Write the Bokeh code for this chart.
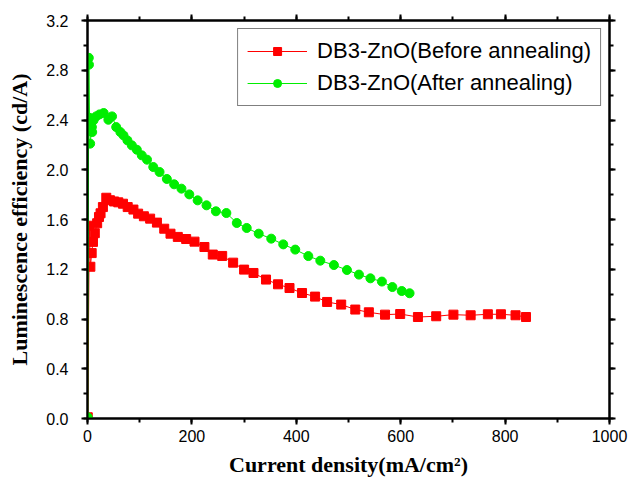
from bokeh.plotting import figure
from bokeh.models import (Range1d, LinearAxis, SingleIntervalTicker, NumeralTickFormatter,
                          Legend, LegendItem, CustomJSTickFormatter)
from bokeh.embed import file_html
from bokeh.resources import INLINE

# Data
red_x = [0.5, 3.5, 5.5, 8, 10.5, 14, 18.5, 22, 25, 29.5,
         36, 43, 51, 59, 68, 77, 88, 97, 108, 120,
         133, 147, 159, 173, 189, 205, 224, 240, 258, 279,
         300, 318, 342, 365, 387, 411, 436, 459, 486, 513,
         539, 570, 599, 633, 668, 701, 734, 767, 792, 820, 840]
red_y = [0.01, 1.55, 1.22, 1.33, 1.42, 1.49, 1.57, 1.62, 1.65, 1.70,
         1.775, 1.755, 1.745, 1.738, 1.727, 1.70, 1.68, 1.647, 1.626, 1.607,
         1.575, 1.526, 1.486, 1.46, 1.443, 1.422, 1.379, 1.318, 1.307, 1.253,
         1.197, 1.17, 1.117, 1.079, 1.049, 1.009, 0.98, 0.937, 0.916, 0.876,
         0.854, 0.835, 0.84, 0.816, 0.822, 0.835, 0.83, 0.838, 0.838, 0.83, 0.816]

green_x = [0.5, 2.5, 2.8, 3.9, 5.1, 8.4, 9, 11.5, 16.6, 23,
           31, 40, 47, 55, 63, 69, 76.5, 85, 94.5, 104,
           114, 126, 138, 152, 166, 180, 195, 211, 228, 246,
           266, 286, 305, 328, 352, 375, 398, 423, 446, 472,
           497, 520, 542, 564, 584, 602, 617]
green_y = [0.01, 2.90, 2.845, 2.418, 2.21, 2.343, 2.303, 2.397, 2.429, 2.445,
           2.456, 2.402, 2.429, 2.343, 2.303, 2.276, 2.236, 2.196, 2.161, 2.116,
           2.081, 2.022, 1.982, 1.926, 1.883, 1.848, 1.802, 1.754, 1.714, 1.666,
           1.652, 1.572, 1.532, 1.486, 1.446, 1.40, 1.358, 1.306, 1.269, 1.234,
           1.194, 1.157, 1.127, 1.101, 1.057, 1.025, 1.007]

labels = ["DB3-ZnO(Before annealing)", "DB3-ZnO(After annealing)"]
RED = "#ff0000"
GREEN = "#00ee00"

p = figure(width=632, height=484, output_backend="svg", toolbar_location=None,
           x_range=Range1d(0, 1000), y_range=Range1d(0, 3.2),
           min_border_left=87, min_border_right=23, min_border_top=20, min_border_bottom=66)
p.xgrid.visible = False
p.ygrid.visible = False
p.outline_line_color = "black"
p.outline_line_width = 2
p.background_fill_color = "white"
p.border_fill_color = "white"

rl = p.line(red_x, red_y, line_color=RED, line_width=1)
rs = p.scatter(red_x, red_y, marker="square", size=9, fill_color=RED, line_color=RED)
gl = p.line(green_x, green_y, line_color=GREEN, line_width=1)
gs = p.scatter(green_x, green_y, marker="circle", size=9, fill_color=GREEN, line_color=GREEN)

def style(ax):
    ax.axis_line_width = 2
    ax.axis_line_color = "black"
    ax.major_tick_line_width = 2
    ax.minor_tick_line_width = 2
    ax.major_tick_out = 6
    ax.major_tick_in = 0
    ax.minor_tick_out = 4
    ax.minor_tick_in = 0
    ax.major_label_text_font = "Liberation Sans"
    ax.major_label_text_color = "black"
    ax.major_label_text_font_size = "16px"
    ax.axis_label_text_color = "black"
    ax.axis_label_text_font = "Liberation Serif"
    ax.axis_label_text_font_style = "bold"
    ax.axis_label_text_font_size = "22px"

xa = p.xaxis[0]
xa.ticker = SingleIntervalTicker(interval=200, num_minor_ticks=2)
style(xa)
xa.major_label_standoff = 5
xa.axis_label = "Current density(mA/cm\u00b2)"
xa.axis_label_standoff = 7

ya = p.yaxis[0]
ya.ticker = SingleIntervalTicker(interval=0.4, num_minor_ticks=2)
ya.formatter = NumeralTickFormatter(format="0.0")
style(ya)
ya.major_label_standoff = 13
ya.axis_label = "Luminescence efficiency (cd/A)"
ya.axis_label_standoff = 11

blank = CustomJSTickFormatter(code="return '';")
top = LinearAxis(ticker=SingleIntervalTicker(interval=200, num_minor_ticks=2), formatter=blank)
style(top)
top.major_label_standoff = 0
p.add_layout(top, "above")
right = LinearAxis(ticker=SingleIntervalTicker(interval=0.4, num_minor_ticks=2), formatter=blank)
style(right)
right.major_label_standoff = 0
p.add_layout(right, "right")

legend = Legend(items=[LegendItem(label=labels[0], renderers=[rl, rs]),
                       LegendItem(label=labels[1], renderers=[gl, gs])],
                location="top_right")
legend.label_text_font = "Liberation Sans"
legend.label_text_font_size = "22px"
legend.label_text_color = "black"
legend.label_height = 20
legend.glyph_width = 60
legend.glyph_height = 20
legend.label_standoff = 10
legend.spacing = 6
legend.padding = 9
legend.margin = 8
legend.border_line_color = "black"
legend.border_line_width = 1
legend.background_fill_alpha = 1
p.add_layout(legend)

open("out.html", "w").write(file_html(p, INLINE))
